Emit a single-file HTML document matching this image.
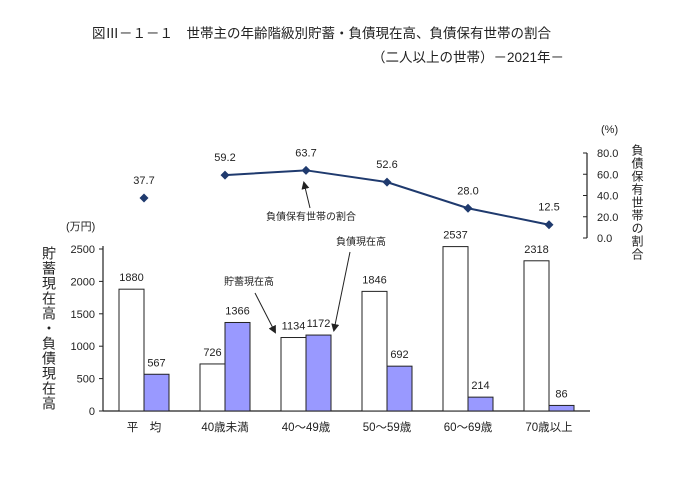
<!DOCTYPE html>
<html><head><meta charset="utf-8"><style>
body{margin:0;background:#fff;width:700px;height:472px;overflow:hidden}
svg text{font-family:"Liberation Sans","Noto Sans CJK JP",sans-serif;fill:#222}
</style></head><body>
<svg width="700" height="472">
<text x="92" y="38" font-size="13.5">図Ⅲ－１－１　世帯主の年齢階級別貯蓄・負債現在高、負債保有世帯の割合</text>
<text x="372" y="62" font-size="13.5">（二人以上の世帯）－2021年－</text>
<g id="g"></g>
</svg>
<script>
const categories=["平　均","40歳未満","40～49歳","50～59歳","60～69歳","70歳以上"];
const savings=[1880,726,1134,1846,2537,2318];
const debt=[567,1366,1172,692,214,86];
const ratio=[37.7,59.2,63.7,52.6,28.0,12.5];
const leftTicks=[0,500,1000,1500,2000,2500];
const rightTicks=[0,20,40,60,80];
const NS="http://www.w3.org/2000/svg";
const g=document.getElementById('g');
function el(t,a,txt){const e=document.createElementNS(NS,t);for(const k in a)e.setAttribute(k,a[k]);if(txt!=null)e.textContent=txt;g.appendChild(e);return e;}
const xC=i=>144+i*81;
const yL=v=>411-v*162/2500;
const yR=v=>238-v*85/80;
let e;
e=el('line',{x1:103,y1:246,x2:103,y2:411,stroke:'#222','stroke-width':1.2});


e=el('line',{x1:103,y1:411,x2:590,y2:411,stroke:'#222','stroke-width':1.2});


leftTicks.forEach(v=>{
 el('line',{x1:99,y1:yL(v),x2:103,y2:yL(v),stroke:'#222'});
 e=el('text',{x:95,y:yL(v)+4,'font-size':11,'text-anchor':'end'},v);
 
 
});
e=el('line',{x1:587,y1:yR(0),x2:587,y2:yR(80),stroke:'#222','stroke-width':1.2});


rightTicks.forEach(v=>{
 el('line',{x1:583,y1:yR(v),x2:587,y2:yR(v),stroke:'#222'});
 e=el('text',{x:597,y:yR(v)+4,'font-size':11},v.toFixed(1));
 
 
});
e=el('text',{x:66,y:230,'font-size':11},'(万円)');


e=el('text',{x:601,y:133,'font-size':11},'(%)');


e=el('text',{x:49,y:246,'font-size':14,'writing-mode':'tb','letter-spacing':'1'},'貯蓄現在高・負債現在高');


e=el('text',{x:637,y:144,'font-size':12,'writing-mode':'tb','letter-spacing':'1'},'負債保有世帯の割合');


categories.forEach((c,i)=>{
 const x=xC(i);
 e=el('rect',{x:x-25,y:yL(savings[i]),width:25,height:411-yL(savings[i]),fill:'#fff',stroke:'#222','stroke-width':1});
 
 
 e=el('rect',{x:x,y:yL(debt[i]),width:25,height:411-yL(debt[i]),fill:'#9999ff',stroke:'#222','stroke-width':1});
 
 
 e=el('text',{x:x-12.5,y:yL(savings[i])-8,'font-size':11,'text-anchor':'middle'},savings[i]);
 
 
 e=el('text',{x:x+12.5,y:yL(debt[i])-8,'font-size':11,'text-anchor':'middle'},debt[i]);
 
 
 e=el('text',{x:x,y:431,'font-size':11.5,'text-anchor':'middle'},c);
 
 
});
const pts=ratio.slice(1).map((v,i)=>xC(i+1)+','+yR(v)).join(' ');
e=el('polyline',{points:pts,fill:'none',stroke:'#1f3a6e','stroke-width':2});


ratio.forEach((v,i)=>{
 const x=xC(i),y=yR(v);
 e=el('path',{d:`M${x} ${y-4.5}L${x+4.5} ${y}L${x} ${y+4.5}L${x-4.5} ${y}Z`,fill:'#1f3a6e'});
 
 
 e=el('text',{x:x,y:y-14,'font-size':11,'text-anchor':'middle'},v.toFixed(1));
 
 
});
el('defs',{}).innerHTML='<marker id="ah" markerWidth="8" markerHeight="8" refX="6" refY="4" orient="auto"><path d="M0,0L8,4L0,8Z" fill="#222"/></marker>';
e=el('text',{x:266,y:220,'font-size':10},'負債保有世帯の割合');


el('line',{x1:310,y1:208,x2:304,y2:183,stroke:'#222','marker-end':'url(#ah)'});
e=el('text',{x:224,y:285,'font-size':10},'貯蓄現在高');


el('line',{x1:255,y1:293,x2:275,y2:332,stroke:'#222','marker-end':'url(#ah)'});
e=el('text',{x:336,y:245,'font-size':10},'負債現在高');


el('line',{x1:350,y1:252,x2:334,y2:330,stroke:'#222','marker-end':'url(#ah)'});
</script>
</body></html>
